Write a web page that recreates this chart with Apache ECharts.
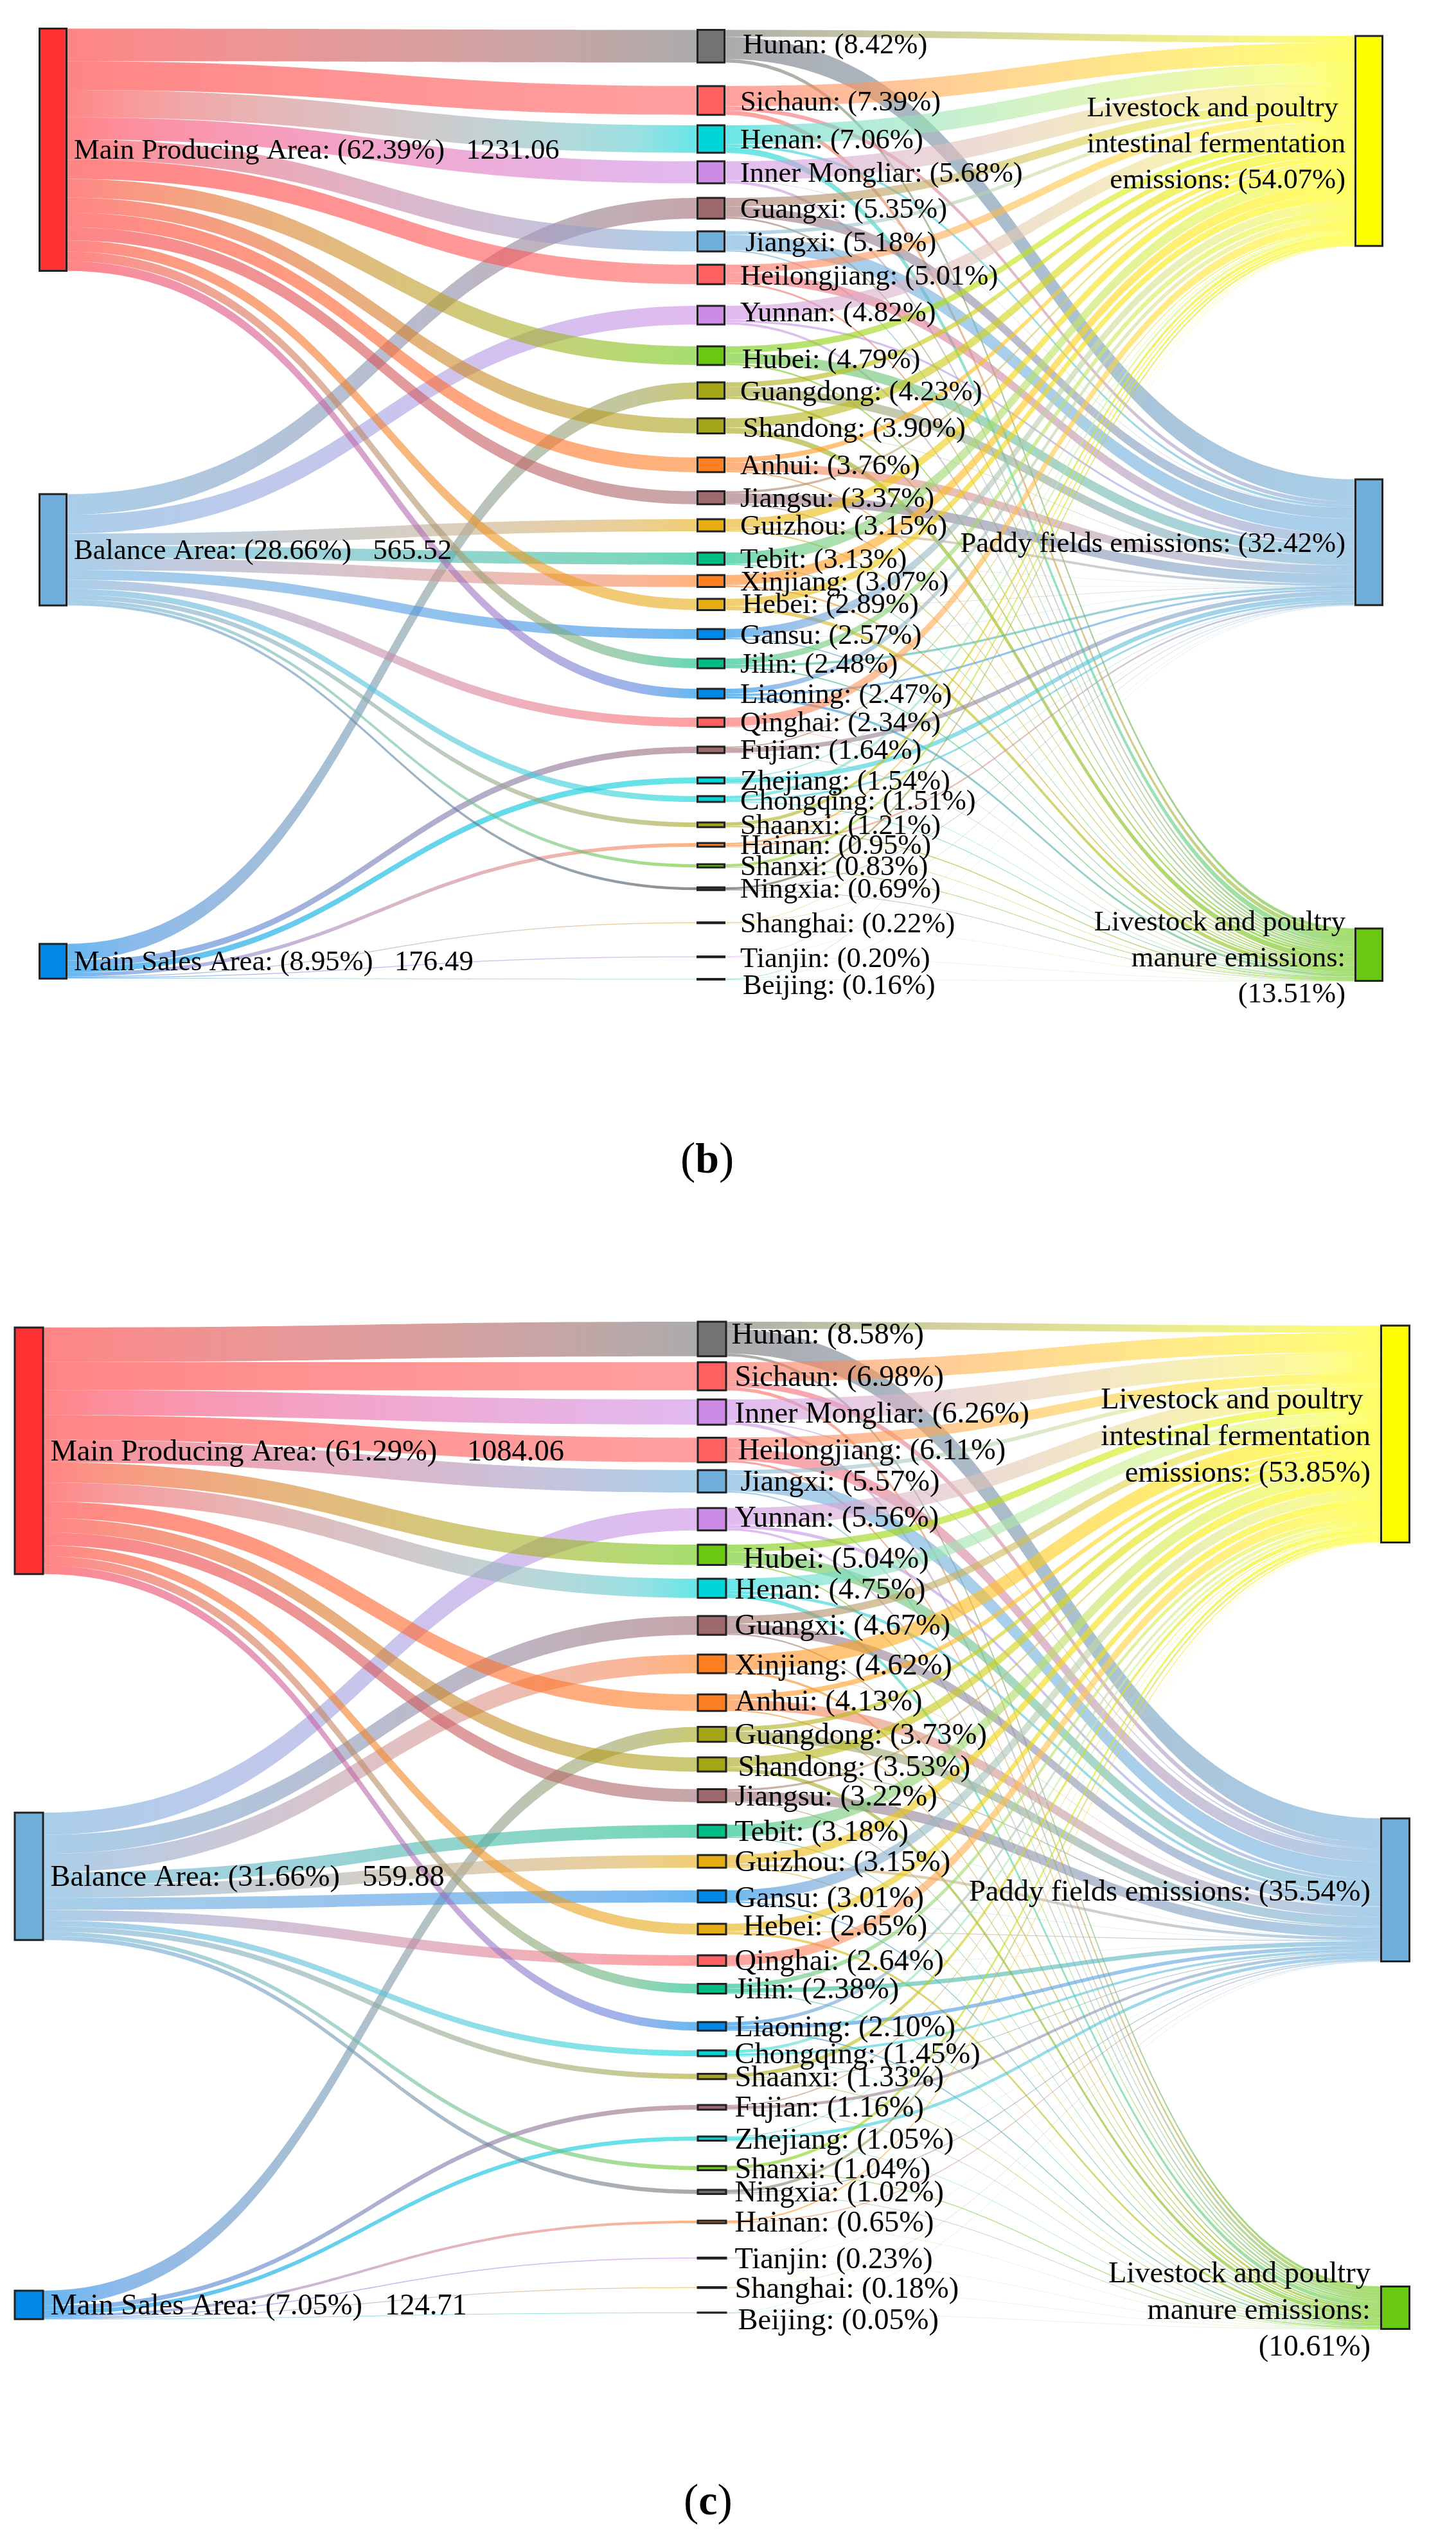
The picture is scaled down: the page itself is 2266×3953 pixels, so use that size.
<!DOCTYPE html>
<html>
<head>
<meta charset="utf-8">
<title>Sankey</title>
<style>html,body{margin:0;padding:0;background:#fff}#c{width:2266px;height:3953px}</style>
<script src="https://cdn.jsdelivr.net/npm/echarts@6/dist/echarts.min.js"></script>
</head>
<body>
<div id="c"></div>
<script>
// ---------- panel (b) data ----------
const areaNames = ['Main Producing Area', 'Balance Area', 'Main Sales Area'];
const sinkNames = ['Livestock and poultry \nintestinal fermentation\nemissions', 'Paddy fields emissions', 'Livestock and poultry\nmanure emissions:'];

const areaPctB = [62.39, 28.66, 8.95];
const areaAmountB = ['1231.06', '565.52', '176.49'];
const sinkPctB = [54.07, 32.42, 13.51];
const provincesB = ['Hunan','Sichaun','Henan','Inner Mongliar','Guangxi','Jiangxi','Heilongjiang','Yunnan','Hubei','Guangdong','Shandong','Anhui','Jiangsu','Guizhou','Tebit','Xinjiang','Hebei','Gansu','Jilin','Liaoning','Qinghai','Fujian','Zhejiang','Chongqing','Shaanxi','Hainan','Shanxi','Ningxia','Shanghai','Tianjin','Beijing'];
const totalsB = [8.42,7.39,7.06,5.68,5.35,5.18,5.01,4.82,4.79,4.23,3.90,3.76,3.37,3.15,3.13,3.07,2.89,2.57,2.48,2.47,2.34,1.64,1.54,1.51,1.21,0.95,0.83,0.69,0.22,0.20,0.16];
const areaOfB = [0,0,0,0,1,0,0,1,0,2,0,0,0,1,1,1,0,1,0,0,1,2,2,1,1,2,1,1,2,2,2];
const fermentB = [1.8,5.2,4.9,4.9,2.2,0.9,2.0,3.6,1.7,1.3,2.4,1.3,0.6,2.2,2.95,2.6,1.9,2.3,1.6,1.3,2.25,0.35,0.25,0.8,0.85,0.45,0.65,0.55,0.05,0.14,0.12];
const paddyB = [5.7,1.05,0.65,0.05,2.7,3.9,2.5,0.6,2.7,2.35,0.08,2.15,2.5,0.6,0.003,0.03,0.05,0.01,0.55,0.55,0.002,1.15,1.2,0.5,0.12,0.45,0.01,0.06,0.15,0.03,0.005];
const manureB = [0.92,1.14,1.51,0.73,0.45,0.38,0.51,0.62,0.39,0.58,1.42,0.31,0.27,0.35,0.18,0.44,0.94,0.26,0.33,0.62,0.09,0.14,0.09,0.21,0.24,0.05,0.17,0.08,0.02,0.03,0.035];
const colorsB = ['#737373','#FF6060','#00D5D8','#CC8CE6','#9E6A6E','#6FAEDB','#FF6060','#CC8CE6','#69C810','#A5A518','#A5A518','#FF8023','#9E6A6E','#E6AE14','#00BD85','#FF8023','#E6AE14','#0088E8','#00BD85','#0088E8','#FF6060','#9E6A6E','#00D5D8','#00D5D8','#A5A518','#FF8023','#69C810','#404040','#E6AE14','#CC8CE6','#00BD85'];

// ---------- panel (c) data ----------
const areaPctC = [61.29, 31.66, 7.05];
const areaAmountC = ['1084.06', '559.88', '124.71'];
const sinkPctC = [53.85, 35.54, 10.61];
const provincesC = ['Hunan','Sichaun','Inner Mongliar','Heilongjiang','Jiangxi','Yunnan','Hubei','Henan','Guangxi','Xinjiang','Anhui','Guangdong','Shandong','Jiangsu','Tebit','Guizhou','Gansu','Hebei','Qinghai','Jilin','Liaoning','Chongqing','Shaanxi','Fujian','Zhejiang','Shanxi','Ningxia','Hainan','Tianjin','Shanghai','Beijing'];
const totalsC = [8.58,6.98,6.26,6.11,5.57,5.56,5.04,4.75,4.67,4.62,4.13,3.73,3.53,3.22,3.18,3.15,3.01,2.65,2.64,2.38,2.10,1.45,1.33,1.16,1.05,1.04,1.02,0.65,0.23,0.18,0.05];
const areaOfC = [0,0,0,0,0,1,0,0,1,1,0,2,0,0,1,1,1,0,1,0,0,1,1,2,2,1,1,2,2,2,2];
const fermentC = [1.8,4.8,5.2,2.5,1.0,4.2,1.8,3.0,1.9,3.9,1.3,1.1,2.3,0.5,3.0,2.25,2.7,1.85,2.55,1.1,0.9,0.75,0.95,0.3,0.2,0.8,0.7,0.35,0.16,0.03,0.04];
const paddyC = [6.1,1.35,0.26,3.1,4.2,0.8,2.9,0.75,2.4,0.15,2.5,2.3,0.3,2.55,0.003,0.65,0.02,0.2,0.002,1.1,0.9,0.6,0.2,0.75,0.78,0.02,0.2,0.27,0.04,0.14,0.002];
const manureC = [0.68,0.83,0.8,0.51,0.37,0.56,0.34,1.0,0.37,0.57,0.33,0.33,0.93,0.17,0.18,0.25,0.29,0.6,0.09,0.18,0.3,0.1,0.18,0.11,0.07,0.22,0.12,0.03,0.03,0.01,0.008];
const colorsC = ['#737373','#FF6060','#CC8CE6','#FF6060','#6FAEDB','#CC8CE6','#69C810','#00D5D8','#9E6A6E','#FF8023','#FF8023','#A5A518','#A5A518','#9E6A6E','#00BD85','#E6AE14','#0088E8','#E6AE14','#FF6060','#00BD85','#0088E8','#00D5D8','#A5A518','#9E6A6E','#00D5D8','#69C810','#707070','#FF8023','#CC8CE6','#E6AE14','#00BD85'];

const areaColors = ['#FF3333', '#6FAEDB', '#0088E8'];
const sinkColors = ['#FFFF00', '#6FAEDB', '#69C810'];

// ---------- layout (page pixels) ----------
const layoutB = {
  top: 0, height: 1900, ky: 6.04, font: 44.6, areaFont: 44.6, nodeW: 42, lineH: 56,
  xs: [61.5, 1085.5, 2109.5],
  areaTop: [44.5, 769, 1469],
  sinkTop: [56, 746, 1445],
  midTop: [46.5,134,195,251,308,360,412,476,539,595,651,712,764.5,808,860,895,932,979,1025,1072,1117,1162,1210,1239,1280,1312,1345,1381,1435.5,1488.5,1523.5],
  labelDx: {0:4,5:8,8:3,10:4,16:3,30:4},
  labelDy: [-3,1,0.5,0.5,1,1,1.6,-5,5,1,3,0.5,0,0.5,0,0.5,-0.5,1,0,0.6,0,0,0,2,0,0,0,0,1,2,9],
  midDist: 23, sinkDist: 14, areaDist: 10, areaGap: [3, 3, 3],
  sinkDy: [3, 1, 4]
};
const layoutC = {
  top: 2000, height: 1900, ky: 6.26, font: 46.5, areaFont: 46.5, nodeW: 44, lineH: 57,
  xs: [23, 1086, 2149.5],
  areaTop: [2066, 2821, 3565],
  sinkTop: [2063, 2830, 3558.5],
  midTop: [2057,2120,2178,2237.5,2288,2347,2404,2457,2515,2575,2637,2687.5,2735,2784.5,2840,2887,2942,2994,3043,3087.5,3147,3191,3227.5,3276,3325,3371,3408,3456,3513.5,3559.5,3599],
  labelDx: {0:-5,3:5,4:9,6:13,12:5,17:13,30:5},
  labelDy: [-8,0,2,0,0,-3.5,6,1,0,1.5,-3,0,3,1,0,0,1.5,-5,0,0,1,1,1,0,1,1,0,0,1,1,11],
  midDist: 12, sinkDist: 15, areaDist: 10, areaGap: [4, 3, 3],
  sinkDy: [2, 2.5, 3]
};

const FONT = '"Liberation Serif","Times New Roman",serif';
const W = 2266;
const LABEL_SHIFT = 2.5;

// link colours blend in linear light, which keeps the middle of a ribbon pale
const toLin = v => Math.pow(v / 255, 2.2);
const toSrgb = v => Math.round(255 * Math.pow(v, 1 / 2.2));
const hexRgb = h => [1, 3, 5].map(i => parseInt(h.substr(i, 2), 16));
function ribbonFill(from, to) {
  const a = hexRgb(from), b = hexRgb(to), stops = [];
  for (let i = 0; i <= 10; i++) {
    const t = i / 10;
    const c = a.map((v, k) => toSrgb(toLin(v) * (1 - t) + toLin(b[k]) * t));
    stops.push({ offset: t, color: 'rgb(' + c.join(',') + ')' });
  }
  return new echarts.graphic.LinearGradient(0, 0, 1, 0, stops);
}
// ribbons thinner than a pixel look faint in the picture
const ribbonOpacity = v => v >= 0.17 ? 0.6 : v >= 0.05 ? 0.4 : 0.18;

function buildSeries(p, L) {
  const localX = x => x / W;
  const localY = y => (y - L.top) / L.height;
  const itemStyle = c => ({ color: c, borderColor: '#222', borderWidth: 3, opacity: 1 });
  const txt = { fontFamily: FONT, fontSize: L.font, color: '#000', show: true };

  const nodes = [];
  p.areas.forEach((n, i) => nodes.push({
    name: n, localX: localX(L.xs[0]), localY: localY(L.areaTop[i]), itemStyle: itemStyle(areaColors[i]),
    label: Object.assign({}, txt, { fontSize: L.areaFont, position: 'right', distance: L.areaDist, offset: [0, LABEL_SHIFT],
      formatter: n + ': (' + p.areaPct[i].toFixed(2) + '%)' + ' '.repeat(L.areaGap[i]) + p.amount[i] })
  }));
  p.prov.forEach((n, i) => nodes.push({
    name: n, localX: localX(L.xs[1]), localY: localY(L.midTop[i]), itemStyle: itemStyle(p.colors[i]),
    label: Object.assign({}, txt, { position: 'right', distance: L.midDist,
      offset: [L.labelDx[i] || 0, L.labelDy[i] + LABEL_SHIFT],
      formatter: n + ': (' + p.totals[i].toFixed(2) + '%)' })
  }));
  sinkNames.forEach((n, i) => {
    const pct = '(' + p.sinkPct[i].toFixed(2) + '%)';
    const text = i === 2 ? n + '\n' + pct : n + ': ' + pct;
    nodes.push({
      name: n, localX: localX(L.xs[2]), localY: localY(L.sinkTop[i]), itemStyle: itemStyle(sinkColors[i]),
      label: Object.assign({}, txt, { position: 'left', distance: L.sinkDist, align: 'right',
        lineHeight: L.lineH, offset: [0, L.sinkDy[i] + LABEL_SHIFT], formatter: text })
    });
  });

  const links = [];
  p.prov.forEach((n, i) => {
    const a = p.areaOf[i];
    links.push({ source: p.areas[a], target: n, value: p.totals[i],
      lineStyle: { color: ribbonFill(areaColors[a], p.colors[i]), opacity: ribbonOpacity(p.totals[i]) } });
  });
  p.prov.forEach((n, i) => {
    [p.ferment, p.paddy, p.manure].forEach((arr, k) => links.push({ source: n, target: sinkNames[k], value: arr[i],
      lineStyle: { color: ribbonFill(p.colors[i], sinkColors[k]), opacity: ribbonOpacity(arr[i]) } }));
  });

  let sum = 0;
  p.prov.forEach((n, i) => { sum += Math.max(p.totals[i], p.ferment[i] + p.paddy[i] + p.manure[i]); });

  return {
    type: 'sankey', left: 0, top: L.top, width: W, height: L.height,
    nodeWidth: L.nodeW, nodeGap: (L.height - L.ky * sum) / (p.prov.length - 1),
    layoutIterations: 0, draggable: false, roam: false,
    emphasis: { disabled: true },
    lineStyle: { opacity: 0.6, curveness: 0.5 },
    data: nodes, links: links
  };
}

const panelB = { areas: areaNames, areaPct: areaPctB, amount: areaAmountB, sinkPct: sinkPctB, prov: provincesB, totals: totalsB, areaOf: areaOfB, ferment: fermentB, paddy: paddyB, manure: manureB, colors: colorsB };
const panelC = { areas: areaNames, areaPct: areaPctC, amount: areaAmountC, sinkPct: sinkPctC, prov: provincesC, totals: totalsC, areaOf: areaOfC, ferment: fermentC, paddy: paddyC, manure: manureC, colors: colorsC };

function caption(letter, left, top) {
  return {
    text: '{p|(}{q|' + letter + '}{p|)}', left: left, top: top,
    textStyle: { fontWeight: 'normal', rich: {
      p: { fontFamily: FONT, fontSize: 70, fontWeight: 'normal', color: '#000' },
      q: { fontFamily: FONT, fontSize: 66, fontWeight: 'bold', color: '#000' }
    } }
  };
}

const chart = echarts.init(document.getElementById('c'), null, { width: 2266, height: 3953, renderer: 'canvas' });
chart.setOption({
  backgroundColor: '#fff',
  animation: false,
  title: [caption('b', 1054, 1768), caption('c', 1059, 3856)],
  series: [buildSeries(panelB, layoutB), buildSeries(panelC, layoutC)]
});
</script>
</body>
</html>
